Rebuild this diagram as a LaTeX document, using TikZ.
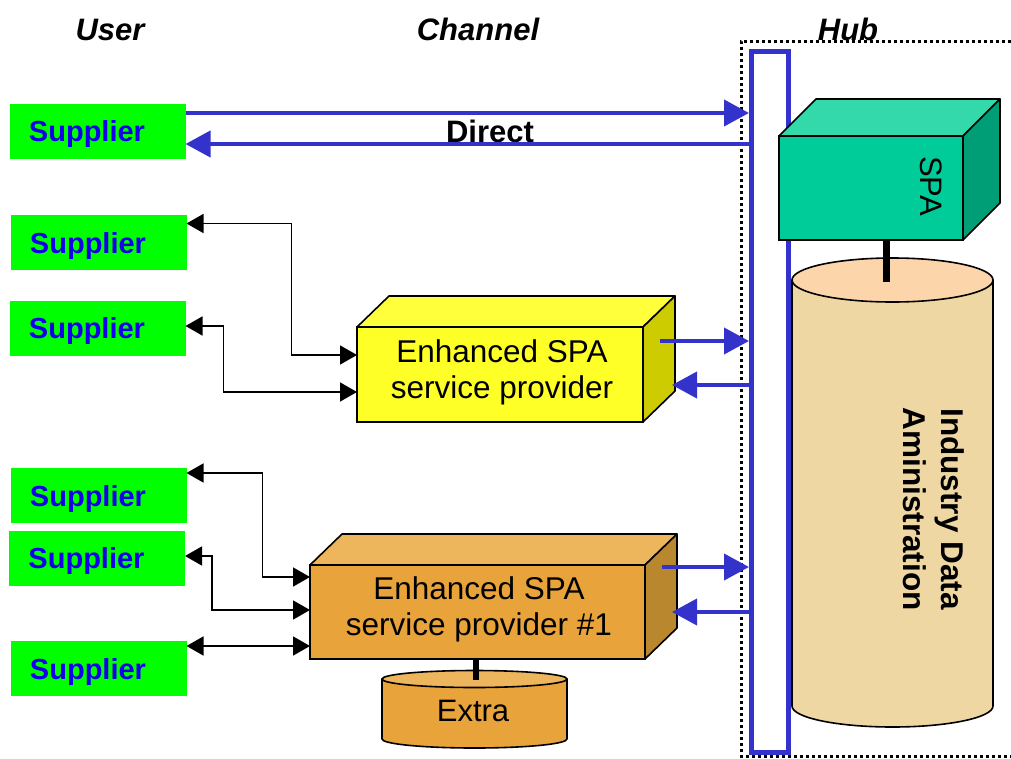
\documentclass[tikz,border=0pt]{standalone}
\usepackage{fontspec}
\setmainfont{Liberation Sans}
\usetikzlibrary{arrows.meta,calc}
\definecolor{supgreen}{RGB}{0,255,0}
\definecolor{supblue}{RGB}{20,0,235}
\definecolor{hubblue}{RGB}{51,51,204}
\definecolor{yfront}{RGB}{255,255,40}
\definecolor{ytop}{RGB}{255,255,60}
\definecolor{yside}{RGB}{204,204,0}
\definecolor{ofront}{RGB}{232,163,58}
\definecolor{otop}{RGB}{237,181,92}
\definecolor{oside}{RGB}{185,135,45}
\definecolor{sfront}{RGB}{0,204,153}
\definecolor{stop}{RGB}{51,217,170}
\definecolor{sside}{RGB}{0,158,119}
\definecolor{peach}{RGB}{253,213,170}
\definecolor{parch}{RGB}{238,215,162}
\begin{document}
\begin{tikzpicture}[x=1pt,y=-1pt,
  title/.style={font=\fontsize{31}{36}\selectfont\bfseries\itshape, inner sep=0, anchor=base},
  supplier/.style={fill=supgreen, minimum width=176pt, minimum height=55pt, inner sep=0, outer sep=0,
    text=supblue, font=\fontsize{29}{34}\selectfont\bfseries, text depth=0pt},
  front/.style={draw=black, line width=1.6pt, outer sep=0, inner sep=0},
  face/.style={draw=black, line width=1.6pt, line join=round},
  boxtext/.style={align=center, font=\fontsize{31.5}{36}\selectfont, inner sep=0},
  bluearr/.style={draw=hubblue, line width=4pt, -{Triangle[length=25pt,width=26pt]}},
  darr/.style={draw=black, line width=1.6pt, {Triangle[length=17pt,width=19pt]}-{Triangle[length=17pt,width=19pt]}},
  stem/.style={draw=black, line width=7pt},
]
\useasboundingbox (0,0) rectangle (1011,758);

% titles
\node[title] (tuser) at (110,40) {User};
\node[title] (tchan) at (478,40) {Channel};
\node[title] (thub) at (848,40) {Hub};

% hub area
\draw[black, line width=3pt, dash pattern=on 3pt off 3pt] (1011,41) -- (741,41) -- (741,756) -- (1011,756);
\node[draw=hubblue, line width=5pt, fill=white, minimum width=37pt, minimum height=700.5pt, inner sep=0] (bus) at (770,401.75) {};

% SPA box
\node[front, fill=sfront, minimum width=184pt, minimum height=104pt] (spa) at (871,188) {};
\filldraw[face, fill=stop] (spa.north west) -- ([shift={(37,-37)}]spa.north west) -- ([shift={(37,-37)}]spa.north east) -- (spa.north east) -- cycle;
\filldraw[face, fill=sside] (spa.north east) -- ([shift={(37,-37)}]spa.north east) -- ([shift={(37,-37)}]spa.south east) -- (spa.south east) -- cycle;
\node[font=\fontsize{31}{36}\selectfont, rotate=-90, inner sep=0] (spatxt) at (931,186) {SPA};

% Industry data cylinder
\filldraw[face, fill=parch] (792,280) -- (792,706) arc[start angle=180, end angle=0, x radius=100.5, y radius=21] -- (993,280) -- cycle;
\filldraw[face, fill=peach] (892.5,280) ellipse[x radius=100.5, y radius=22];
\coordinate (idatop) at (886,282);
\node[font=\fontsize{31.5}{38}\selectfont\bfseries, align=center, rotate=-90, inner sep=0] (ida) at (933.5,509) {Industry Data\\Aministration};
\draw[stem] ([xshift=15pt]spa.south) -- (idatop);

% suppliers
\node[supplier] (sup1) at (97.5,131) {Supplier\makebox[21pt]{}};
\node[supplier] (sup2) at (98.5,242.5) {Supplier\makebox[21pt]{}};
\node[supplier] (sup3) at (97.5,328) {Supplier\makebox[21pt]{}};
\node[supplier] (sup4) at (98.5,495.5) {Supplier\makebox[21pt]{}};
\node[supplier] (sup5) at (97,558) {Supplier\makebox[21pt]{}};
\node[supplier] (sup6) at (98.5,668.5) {Supplier\makebox[21pt]{}};

% direct
\node[font=\fontsize{31}{36}\selectfont\bfseries, inner sep=0, anchor=base] (direct) at (490,142) {Direct};
\coordinate (d1) at ([yshift=18pt]sup1.east);
\coordinate (d2) at ([yshift=-13pt]sup1.east);
\draw[bluearr] (d1) -- (d1 -| bus.west);
\draw[bluearr] (d2 -| bus.west) -- (d2);

% yellow box
\node[front, fill=yfront, minimum width=286pt, minimum height=95pt] (yel) at (500,374.5) {};
\filldraw[face, fill=ytop] (yel.north west) -- ([shift={(32,-31)}]yel.north west) -- ([shift={(32,-31)}]yel.north east) -- (yel.north east) -- cycle;
\filldraw[face, fill=yside] (yel.north east) -- ([shift={(32,-31)}]yel.north east) -- ([shift={(32,-31)}]yel.south east) -- (yel.south east) -- cycle;
\node[boxtext] (yeltxt) at (502,372) {Enhanced SPA\\service provider};
\coordinate (y1) at ([shift={(17,-33.5)}]yel.east);
\coordinate (y2) at ([shift={(29,10.5)}]yel.east);
\draw[bluearr] (y1) -- (y1 -| bus.west);
\draw[bluearr] (y2 -| bus.west) -- (y2);

% orange box
\node[front, fill=ofront, minimum width=335pt, minimum height=94pt] (oran) at (477.5,612) {};
\filldraw[face, fill=otop] (oran.north west) -- ([shift={(32,-31)}]oran.north west) -- ([shift={(32,-31)}]oran.north east) -- (oran.north east) -- cycle;
\filldraw[face, fill=oside] (oran.north east) -- ([shift={(32,-31)}]oran.north east) -- ([shift={(32,-31)}]oran.south east) -- (oran.south east) -- cycle;
\node[boxtext] (orantxt) at (479,609.5) {Enhanced SPA\\service provider \#1};
\coordinate (o1) at ([shift={(17,-45)}]oran.east);
\coordinate (o2) at ([shift={(27,0)}]oran.east);
\draw[bluearr] (o1) -- (o1 -| bus.west);
\draw[bluearr] (o2 -| bus.west) -- (o2);

% extra cylinder
\filldraw[face, fill=ofront] (382,679) -- (382,739) arc[start angle=180, end angle=0, x radius=92.5, y radius=9] -- (567,679) -- cycle;
\filldraw[face, fill=otop] (474.5,679) ellipse[x radius=92.5, y radius=8.5];
\coordinate (extop) at (476,680);
\node[font=\fontsize{31}{36}\selectfont, inner sep=0] (extra) at (473,711) {Extra};
\draw[stem, line width=6pt] ([xshift=-1.5pt]oran.south) -- (extop);

% black connectors
\coordinate (s6) at ([yshift=22.5pt]sup6.east);
\draw[darr] ([yshift=19pt]sup2.east) -- ++(105,0) |- ([yshift=19.5pt]yel.west);
\draw[darr] ([yshift=2pt]sup3.east) -- ++(38,0) |- ([yshift=-17.5pt]yel.west);
\draw[darr] ([yshift=22.5pt]sup4.east) -- ++(76,0) |- ([yshift=35pt]oran.west);
\draw[darr] ([yshift=2pt]sup5.east) -- ++(27,0) |- ([yshift=2pt]oran.west);
\draw[darr] (s6) -- (s6 -| oran.west);
\end{tikzpicture}
\end{document}
